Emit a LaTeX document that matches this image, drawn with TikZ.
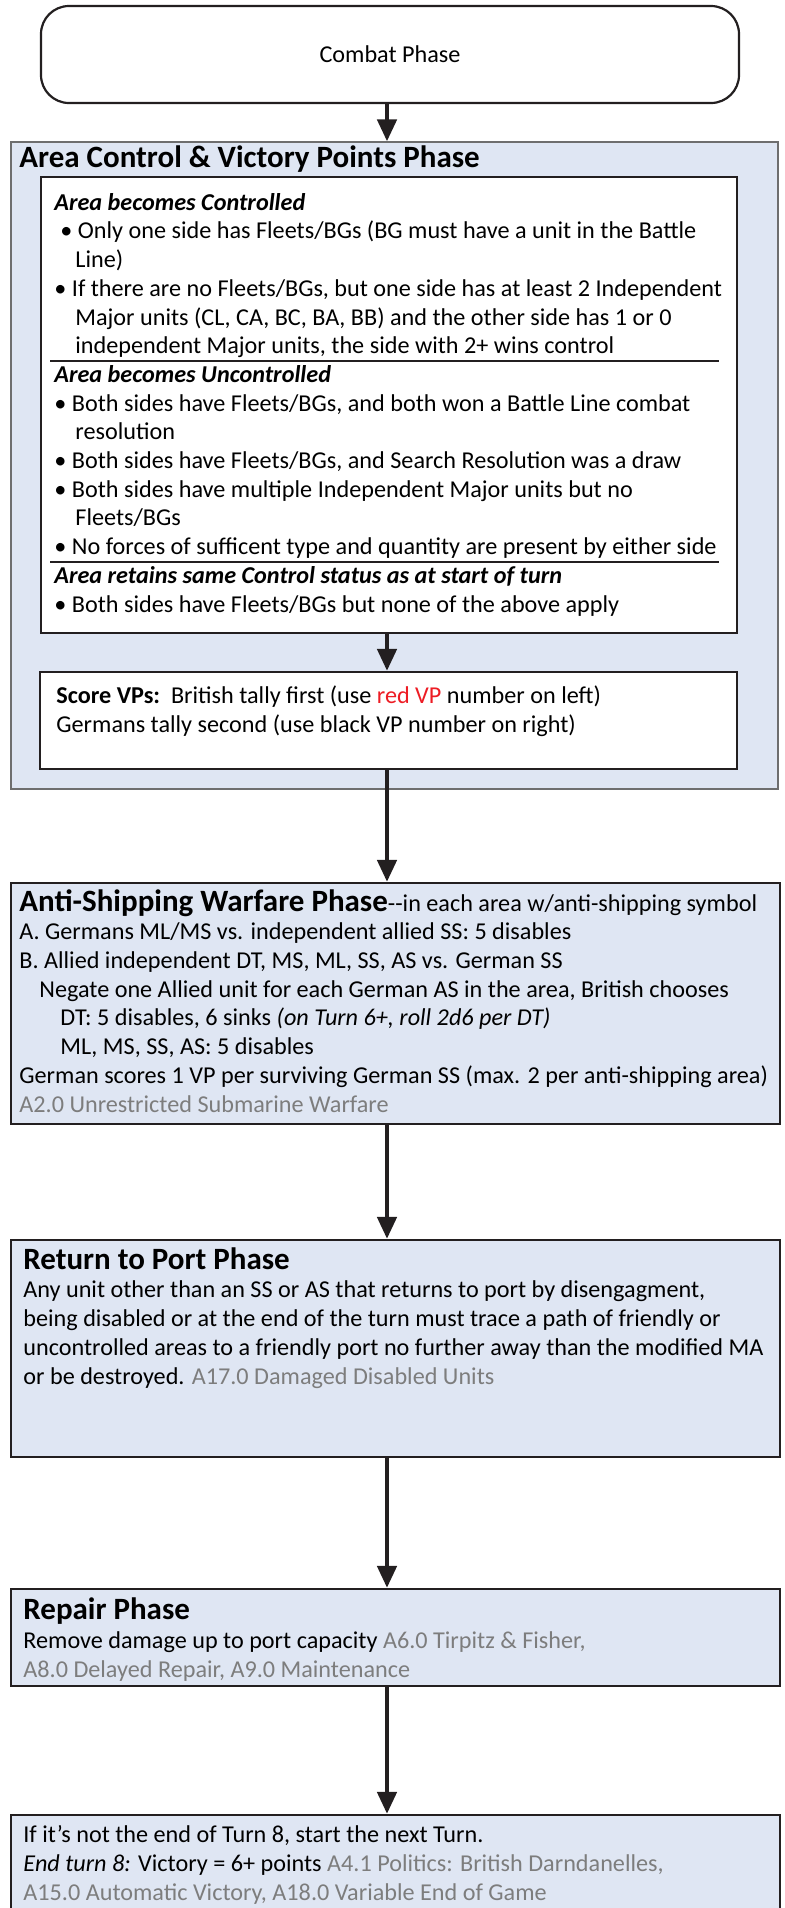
\documentclass[tikz,border=0pt]{standalone}
\usepackage{fontspec}
\setmainfont{Carlito}
\usetikzlibrary{arrows.meta,fit,calc,positioning}

\definecolor{phasefill}{RGB}{223,230,243}
\definecolor{refgray}{RGB}{125,125,125}
\definecolor{vpred}{RGB}{237,28,36}
\definecolor{inkblack}{RGB}{35,31,32}
\definecolor{areaedge}{RGB}{110,110,110}

\newcommand{\bodyfont}{\fontsize{12.1}{14.35}\selectfont}
\newcommand{\headfont}{\fontsize{15.5}{17}\selectfont\bfseries}
\newcommand{\refnote}[1]{\textcolor{refgray}{#1}}

\tikzset{
    phasebox/.style={draw=inkblack, line width=1.1pt, fill=phasefill, inner sep=0pt},
    areabox/.style={draw=areaedge, line width=0.6pt, fill=phasefill, inner sep=0pt},
    rulebox/.style={draw=inkblack, line width=1.1pt, fill=white, inner sep=0pt},
    bodytext/.style={anchor=base west, inner sep=0pt, align=left, font=\bodyfont},
    flow/.style={draw=inkblack, line width=2.3pt, -{Triangle[length=11pt,width=9.5pt]}},
}

\begin{document}
\begin{tikzpicture}[x=0.5pt,y=-0.5pt]
                    \useasboundingbox (0,0) rectangle (784,1908);
                    \clip (0,0) rectangle (784,1908);
                    \coordinate (spine) at (387,0);

                    \node [rulebox, rounded corners=14pt, fit={(41,6) (739,103)}] (combat) {};
                    \node [font=\bodyfont, inner sep=0pt] (combattxt) at (combat.center) {Combat Phase};

                    \node [areabox, fit={(11,142) (778,789)}] (area) {};
                    \node [bodytext, font=\headfont] (areatitle) at (19,167) {Area Control \& Victory Points Phase};

                    % multi-line texts sit on the baseline of their last line
                    \node [rulebox, fit={(41,177) (737,633)}] (rules) {};
                    \node [bodytext] (rulestxt) at (54,612) {%
                        \textbf{\textit{Area becomes Controlled}}\\
                        \hspace*{3pt}\textbullet\ Only one side has Fleets/BGs (BG must have a unit in the Battle\\
                        \hspace*{10.5pt}Line)\\
                        \textbullet\ If there are no Fleets/BGs, but one side has at least 2 Independent\\
                        \hspace*{10.5pt}Major units (CL, CA, BC, BA, BB) and the other side has 1 or 0\\
                        \hspace*{10.5pt}independent Major units, the side with 2+ wins control\\
                        \textbf{\textit{Area becomes Uncontrolled}}\\
                        \textbullet\ Both sides have Fleets/BGs, and both won a Battle Line combat\\
                        \hspace*{10.5pt}resolution\\
                        \textbullet\ Both sides have Fleets/BGs, and Search Resolution was a draw\\
                        \textbullet\ Both sides have multiple Independent Major units but no\\
                        \hspace*{10.5pt}Fleets/BGs\\
                        \textbullet\ No forces of sufficent type and quantity are present by either side\\
                        \textbf{\textit{Area retains same Control status as at start of turn}}\\
                        \textbullet\ Both sides have Fleets/BGs but none of the above apply};
                    \draw [inkblack, line width=0.6pt] (50,361) -- (719,361);
                    \draw [inkblack, line width=0.6pt] (50,562) -- (719,562);

                    \node [rulebox, fit={(40,672) (737,769)}] (score) {};
                    \node [bodytext] (scoretxt) at (56,732) {%
                        \textbf{Score VPs:}\ \ British tally first (use \textcolor{vpred}{red VP} number on left)\\
                        Germans tally second (use black VP number on right)};

                    \node [phasebox, fit={(11,883) (780,1124)}] (antiship) {};
                    \node [bodytext] (antishiptxt) at (19,1112) {%
                        {\headfont Anti-Shipping Warfare Phase}-{}-in each area w/anti-shipping symbol\\
                        A. Germans ML/MS vs. independent allied SS: 5 disables\\
                        B. Allied independent DT, MS, ML, SS, AS vs. German SS\\
                        \hspace*{10pt}Negate one Allied unit for each German AS in the area, British chooses\\
                        \hspace*{20.5pt}DT: 5 disables, 6 sinks \textit{(on Turn 6+, roll 2d6 per DT)}\\
                        \hspace*{20.5pt}ML, MS, SS, AS: 5 disables\\
                        German scores 1 VP per surviving German SS (max. 2 per anti-shipping area)\\
                        \refnote{A2.0 Unrestricted Submarine Warfare}};

                    \node [phasebox, fit={(11,1240) (780,1457)}] (port) {};
                    \node [bodytext] (porttxt) at (23,1384) {%
                        {\headfont Return to Port Phase}\\
                        Any unit other than an SS or AS that returns to port by disengagment,\\
                        being disabled or at the end of the turn must trace a path of friendly or\\
                        uncontrolled areas to a friendly port no further away than the modified MA\\
                        or be destroyed. \refnote{A17.0 Damaged Disabled Units}};

                    \node [phasebox, fit={(11,1589) (780,1686)}] (repair) {};
                    \node [bodytext] (repairtxt) at (23,1677) {%
                        {\headfont Repair Phase}\\
                        Remove damage up to port capacity \refnote{A6.0 Tirpitz \& Fisher,}\\
                        \refnote{A8.0 Delayed Repair, A9.0 Maintenance}};

                    \node [phasebox, fit={(11,1815) (780,1950)}] (nextturn) {};
                    \node [bodytext] (nextturntxt) at (23,1900) {%
                        If it’s not the end of Turn 8, start the next Turn.\\
                        \textit{End turn 8:} Victory = 6+ points \refnote{A4.1 Politics: British Darndanelles,}\\
                        \refnote{A15.0 Automatic Victory, A18.0 Variable End of Game}};

                    \draw [flow] (combat.south -| spine) -- (area.north -| spine);
                    \draw [flow] (rules.south -| spine) -- (score.north -| spine);
                    \draw [flow] (score.south -| spine) -- (antiship.north -| spine);
                    \draw [flow] (antiship.south -| spine) -- (port.north -| spine);
                    \draw [flow] (port.south -| spine) -- (repair.north -| spine);
                    \draw [flow] (repair.south -| spine) -- (nextturn.north -| spine);
                \end{tikzpicture}
\end{document}
